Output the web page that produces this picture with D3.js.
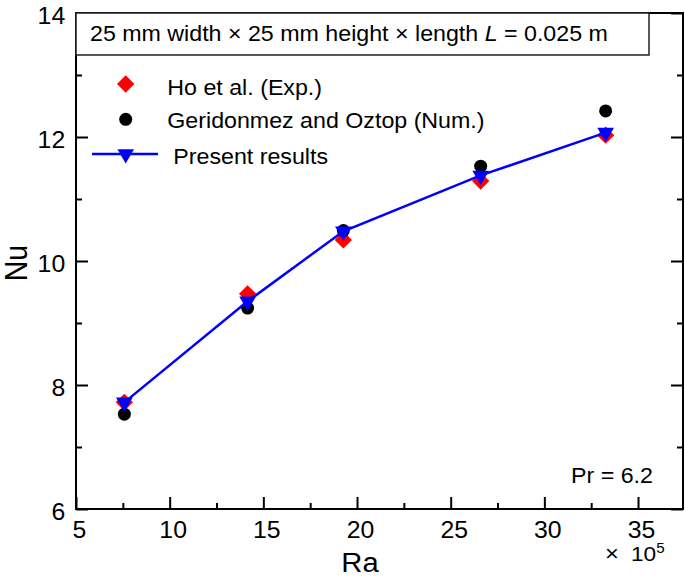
<!DOCTYPE html>
<html>
<head>
<meta charset="utf-8">
<script src="https://cdn.jsdelivr.net/npm/d3@7/dist/d3.min.js"></script>
<style>
  body { margin: 0; background: #fff; }
  text { font-family: 'Liberation Sans', Arial, sans-serif; fill: #000; }
</style>
</head>
<body>
<svg id="chart" width="685" height="581"></svg>
<script>
'use strict'

// Ra values (x 10^5) and Nu for each series
const ra = [7.58, 14.16, 19.27, 26.6, 33.27]
const hoExp = [7.72, 9.47, 10.34, 11.29, 12.03]
const geridonmezNum = [7.53, 9.24, 10.49, 11.53, 12.42]
const present = [7.72, 9.35, 10.48, 11.38, 12.07]

const xTicks = [5, 10, 15, 20, 25, 30, 35]
const xMinorTicks = [7.5, 12.5, 17.5, 22.5, 27.5, 32.5]
const yTicks = [6, 8, 10, 12, 14]
const yMinorTicks = [7, 9, 11, 13]

const legendLabels = ['Ho et al. (Exp.)', 'Geridonmez and Oztop (Num.)', 'Present results']

;(function () {
  const box = { left: 76, right: 683, top: 13, bottom: 509 }
  const stretch = 1.08 // the picture is a bit wider than the fonts

  const svg = d3.select('#chart')

  const scaleX = d3.scaleLinear().domain([5, 37.4]).range([box.left, box.right])
  const scaleY = d3.scaleLinear().domain([6, 14]).range([box.bottom, box.top])

  function styleAxis (g, size) {
    g.select('.domain').remove()
    g.attr('font-family', null).attr('font-size', null)
    g.selectAll('line').attr('stroke', '#000').attr('stroke-width', 2)
    g.selectAll('text').style('font-size', size + 'px')
  }

  // major axes with labels
  svg.append('g')
    .attr('transform', 'translate(0,' + box.bottom + ')')
    .call(d3.axisBottom(scaleX).tickValues(xTicks).tickSize(-12).tickSizeOuter(0).tickPadding(13))
    .call(styleAxis, 23)
    .selectAll('text')
    .attr('transform', 'translate(3,0) scale(' + stretch + ',1)')
  svg.append('g')
    .attr('transform', 'translate(' + box.left + ',0)')
    .call(d3.axisLeft(scaleY).tickValues(yTicks).tickSize(-12).tickSizeOuter(0).tickPadding(10))
    .call(styleAxis, 23)
    .selectAll('text')
    .attr('y', 3)
    .attr('transform', 'scale(' + stretch + ',1)')

  // mirrored axes, no labels
  svg.append('g')
    .attr('transform', 'translate(0,' + box.top + ')')
    .call(d3.axisTop(scaleX).tickValues(xTicks).tickSize(-12).tickSizeOuter(0).tickFormat(''))
    .call(styleAxis, 10)
  svg.append('g')
    .attr('transform', 'translate(' + box.right + ',0)')
    .call(d3.axisRight(scaleY).tickValues(yTicks).tickSize(-12).tickSizeOuter(0).tickFormat(''))
    .call(styleAxis, 10)

  // minor ticks
  svg.append('g')
    .attr('transform', 'translate(0,' + box.bottom + ')')
    .call(d3.axisBottom(scaleX).tickValues(xMinorTicks).tickSize(-6).tickSizeOuter(0).tickFormat(''))
    .call(styleAxis, 10)
  svg.append('g')
    .attr('transform', 'translate(0,' + box.top + ')')
    .call(d3.axisTop(scaleX).tickValues(xMinorTicks).tickSize(-6).tickSizeOuter(0).tickFormat(''))
    .call(styleAxis, 10)
  svg.append('g')
    .attr('transform', 'translate(' + box.left + ',0)')
    .call(d3.axisLeft(scaleY).tickValues(yMinorTicks).tickSize(-6).tickSizeOuter(0).tickFormat(''))
    .call(styleAxis, 10)
  svg.append('g')
    .attr('transform', 'translate(' + box.right + ',0)')
    .call(d3.axisRight(scaleY).tickValues(yMinorTicks).tickSize(-6).tickSizeOuter(0).tickFormat(''))
    .call(styleAxis, 10)

  // frame
  svg.append('rect')
    .attr('x', box.left)
    .attr('y', box.top)
    .attr('width', box.right - box.left)
    .attr('height', box.bottom - box.top)
    .attr('fill', 'none')
    .attr('stroke', '#000')
    .attr('stroke-width', 2)

  // title box
  svg.append('rect')
    .attr('x', box.left)
    .attr('y', box.top)
    .attr('width', 573)
    .attr('height', 42)
    .attr('fill', '#fff')
    .attr('stroke', '#222')
    .attr('stroke-width', 1.5)
  const title = svg.append('text')
    .attr('transform', 'translate(90,40.5) scale(' + stretch + ',1)')
    .style('font-size', '21.5px')
  title.append('tspan').text('25 mm width \u00d7 25 mm height \u00d7 length ')
  title.append('tspan').style('font-style', 'italic').text('L')
  title.append('tspan').text(' = 0.025 m')

  // markers
  const diamond = d3.symbol(d3.symbolSquare, 150)
  const triangle = d3.symbol(d3.symbolTriangle, 120)

  const points = ra.map(function (r, i) {
    return { ra: r, ho: hoExp[i], ger: geridonmezNum[i], pres: present[i] }
  })

  svg.append('g').selectAll('path')
    .data(points)
    .enter()
    .append('path')
    .attr('d', diamond)
    .attr('fill', '#ff0000')
    .attr('transform', function (d) {
      return 'translate(' + scaleX(d.ra) + ',' + scaleY(d.ho) + ') rotate(45)'
    })

  svg.append('g').selectAll('circle')
    .data(points)
    .enter()
    .append('circle')
    .attr('cx', function (d) { return scaleX(d.ra) })
    .attr('cy', function (d) { return scaleY(d.ger) })
    .attr('r', 6.5)
    .attr('fill', '#000')

  const line = d3.line()
    .x(function (d) { return scaleX(d.ra) })
    .y(function (d) { return scaleY(d.pres) })
  svg.append('path')
    .attr('d', line(points))
    .attr('fill', 'none')
    .attr('stroke', '#0000ff')
    .attr('stroke-width', 2.5)

  svg.append('g').selectAll('path')
    .data(points)
    .enter()
    .append('path')
    .attr('d', triangle)
    .attr('fill', '#0000ff')
    .attr('transform', function (d) {
      return 'translate(' + scaleX(d.ra) + ',' + scaleY(d.pres) + ') rotate(180)'
    })

  // legend
  const legend = svg.append('g')
  legend.append('path')
    .attr('d', diamond)
    .attr('fill', '#ff0000')
    .attr('transform', 'translate(125.7,84) rotate(45)')
  legend.append('circle')
    .attr('cx', 125.7)
    .attr('cy', 119.3)
    .attr('r', 6.5)
    .attr('fill', '#000')
  legend.append('line')
    .attr('x1', 92)
    .attr('x2', 158)
    .attr('y1', 154)
    .attr('y2', 154)
    .attr('stroke', '#0000ff')
    .attr('stroke-width', 2.5)
  legend.append('path')
    .attr('d', triangle)
    .attr('fill', '#0000ff')
    .attr('transform', 'translate(125.7,154) rotate(180)')
  const legendPos = [[167.3, 95], [167.3, 128.3], [173.3, 164]]
  legend.selectAll('text.label')
    .data(legendLabels)
    .enter()
    .append('text')
    .attr('class', 'label')
    .style('font-size', '21.5px')
    .attr('transform', function (d, i) {
      return 'translate(' + legendPos[i][0] + ',' + legendPos[i][1] + ') scale(' + stretch + ',1)'
    })
    .text(function (d) { return d })

  // annotations and axis titles
  svg.append('text')
    .attr('transform', 'translate(571,482.7) scale(' + stretch + ',1)')
    .style('font-size', '21.5px')
    .text('Pr = 6.2')

  svg.append('text')
    .attr('text-anchor', 'middle')
    .attr('transform', 'translate(360,572) scale(' + stretch + ',1)')
    .style('font-size', '27px')
    .text('Ra')

  svg.append('text')
    .attr('text-anchor', 'middle')
    .attr('transform', 'translate(26.7,263) scale(' + stretch + ',1)  rotate(-90)')
    .style('font-size', '28.5px')
    .text('Nu')

  // x 10^5 multiplier under the last tick label
  svg.append('text')
    .attr('transform', 'translate(605,561) scale(' + stretch + ',1)')
    .style('font-size', '22px')
    .text('\u00d7')
  const power = svg.append('text')
    .attr('transform', 'translate(631,561) scale(' + stretch + ',1)')
    .style('font-size', '21px')
  power.append('tspan').text('10')
  power.append('tspan')
    .attr('dy', -8.3)
    .style('font-size', '14px')
    .text('5')
})()
</script>
</body>
</html>
